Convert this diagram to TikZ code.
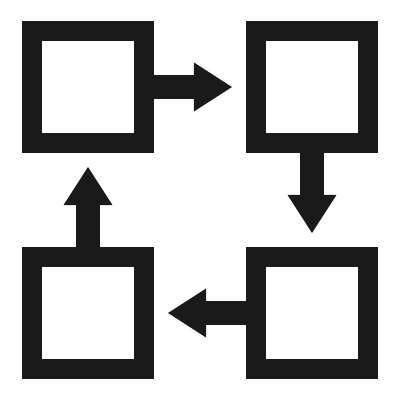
\documentclass[tikz,border=0pt]{standalone}
\usepackage{tikz}
\usetikzlibrary{arrows.meta}
\definecolor{icon}{HTML}{1A1A1A}
\tikzset{%
    box/.style={draw=icon, line width=2mm, minimum size=11.2mm, inner sep=0pt},
    flow/.style={draw=icon, line width=2.4mm, shorten >=1.4mm,
        -{Triangle[length=3.8mm,width=4.9mm,line width=0pt,fill=icon]}}
}

\begin{document}
\begin{tikzpicture}[x=0.01cm, y=-0.01cm]
      \useasboundingbox (0,0) rectangle (400,400);

      \node[box] (tl) at (88,87) {};
      \node[box] (tr) at (312,87) {};
      \node[box] (br) at (312,313) {};
      \node[box] (bl) at (88,313) {};

      \draw[flow] (tl) -- (tr);
      \draw[flow] (tr) -- (br);
      \draw[flow] (br) -- (bl);
      \draw[flow] (bl) -- (tl);
    \end{tikzpicture}
\end{document}
